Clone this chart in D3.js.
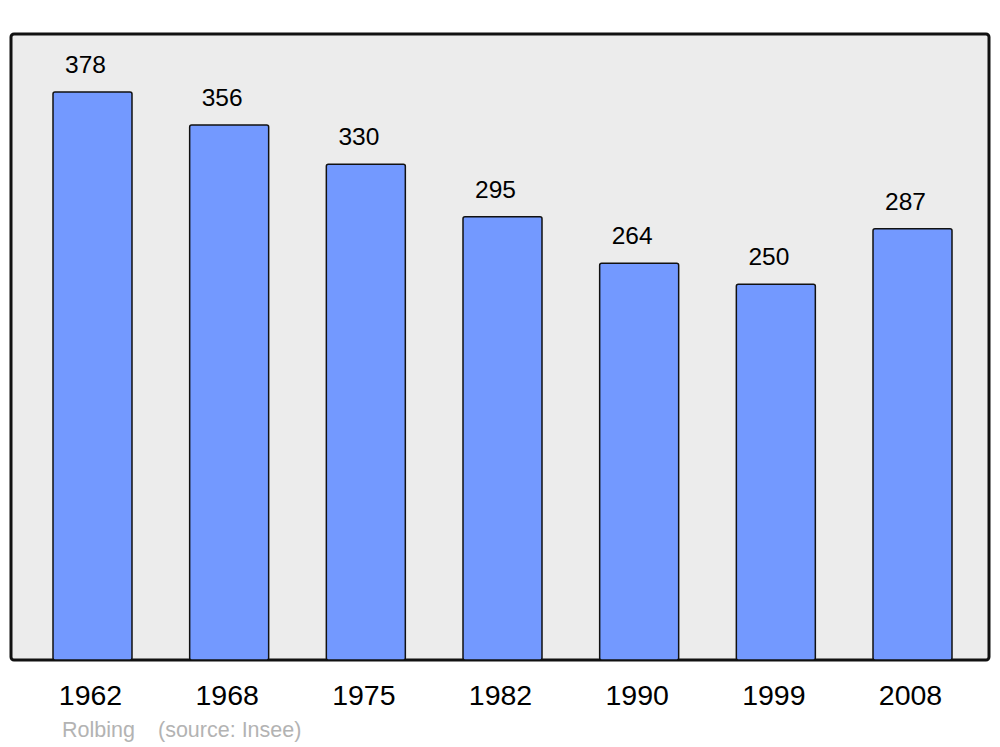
<!DOCTYPE html>
<html><head><meta charset="utf-8">
<script src="https://cdn.jsdelivr.net/npm/d3@7"></script>
<style>body{margin:0;background:#fff}svg{display:block}text{font-family:"Liberation Sans",Arial,sans-serif}</style>
</head><body>
<svg id="c" width="1000" height="747"></svg>
<script>
const years = ["1962","1968","1975","1982","1990","1999","2008"];
const population = [378,356,330,295,264,250,287];
const sourceText = ["Rolbing", "(source: Insee)"];

const svg = d3.select("#c");
const frame = {x0: 11, y0: 34, x1: 989, y1: 660};

svg.append("rect").attr("x", frame.x0).attr("y", frame.y0)
  .attr("width", frame.x1 - frame.x0).attr("height", frame.y1 - frame.y0)
  .attr("rx", 3).attr("fill", "#ececec").attr("stroke", "#111").attr("stroke-width", 3);

const x = d3.scaleBand().domain(years).range([53, 952]).paddingInner(0.422).paddingOuter(0);
const y = d3.scaleLinear().domain([0, 378]).range([frame.y1, 92]);

svg.selectAll("rect.bar").data(years).join("rect").attr("class","bar")
  .attr("x", d => x(d)).attr("width", x.bandwidth())
  .attr("y", (d,i) => y(population[i])).attr("height", (d,i) => frame.y1 - y(population[i]))
  .attr("rx", 2).attr("fill", "#7399ff").attr("stroke", "#111").attr("stroke-width", 1.5);

svg.selectAll("text.val").data(years).join("text").attr("class","val")
  .attr("x", d => x(d) + x.bandwidth()/2 - 7).attr("y", (d,i) => y(population[i]) - 19)
  .attr("text-anchor","middle").attr("font-size", 24.5).attr("fill","#000")
  .text((d,i) => population[i]);

svg.selectAll("text.yr").data(years).join("text").attr("class","yr")
  .attr("x", d => x(d) + x.bandwidth()/2 - 2).attr("y", 705)
  .attr("text-anchor","middle").attr("font-size", 28.5).attr("fill","#000")
  .text(d => d);

svg.append("text").attr("x", 62).attr("y", 737).attr("font-size", 21.5).attr("fill","#b3b3b3").text(sourceText[0]);
svg.append("text").attr("x", 158).attr("y", 737).attr("font-size", 21.5).attr("fill","#b3b3b3").text(sourceText[1]);
</script>
</body></html>
